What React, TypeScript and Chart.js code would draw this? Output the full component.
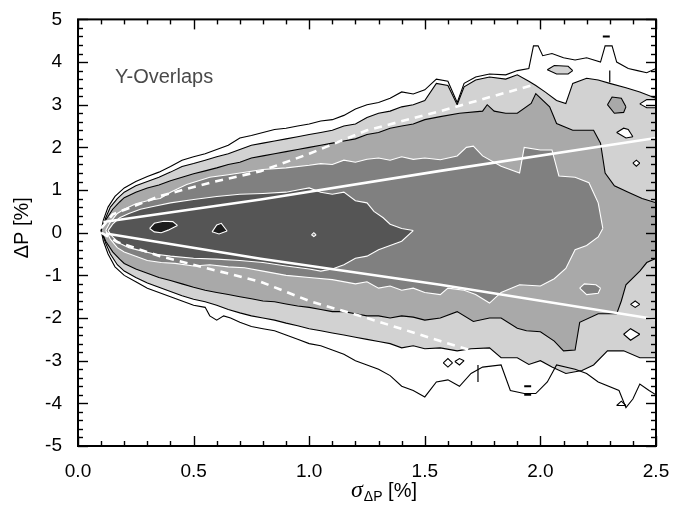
import React, { useEffect, useRef } from "react";
import { Chart, registerables } from "chart.js";

Chart.register(...registerables);

type P = [number, number];

// ---- axis ticks ----
const X_TICKS = [0, 0.5, 1.0, 1.5, 2.0, 2.5];
const X_TICK_LABELS = ["0.0", "0.5", "1.0", "1.5", "2.0", "2.5"];
const Y_TICKS = [-5, -4, -3, -2, -1, 0, 1, 2, 3, 4, 5];
const Y_TICK_LABELS = ["-5", "-4", "-3", "-2", "-1", "0", "1", "2", "3", "4", "5"];
const X_MINOR_STEP = 0.1;
const Y_MINOR_STEP = 0.2;

// ---- contour level 1 (outermost, black line, white fill) ----
const L1_UPPER: P[] = [[0.1,0.05],[0.11,0.3],[0.13,0.6],[0.16,0.85],[0.2,1.05],[0.25,1.2],[0.3,1.32],[0.35,1.42],[0.4,1.55],[0.45,1.7],[0.5,1.78],[0.55,1.85],[0.6,1.95],[0.65,2.05],[0.7,2.22],[0.75,2.28],[0.8,2.35],[0.85,2.42],[0.9,2.45],[0.95,2.5],[1.0,2.55],[1.05,2.62],[1.1,2.65],[1.15,2.75],[1.2,2.9],[1.25,3.0],[1.3,3.05],[1.35,3.15],[1.4,3.3],[1.45,3.25],[1.5,3.35],[1.55,3.6],[1.6,3.55],[1.64,3.05],[1.67,3.5],[1.72,3.65],[1.78,3.72],[1.85,3.7],[1.9,3.8],[1.95,3.85],[1.97,4.38],[1.99,4.38],[2.01,4.15],[2.05,4.2],[2.1,4.1],[2.15,4.05],[2.2,4.1],[2.26,4.0],[2.28,4.38],[2.31,4.38],[2.33,4.0],[2.38,3.85],[2.42,3.8],[2.46,3.75],[2.5,3.85]];
const L1_LOWER: P[] = [[0.1,0.05],[0.11,-0.2],[0.13,-0.5],[0.16,-0.8],[0.2,-1.0],[0.25,-1.15],[0.3,-1.3],[0.35,-1.4],[0.4,-1.5],[0.45,-1.6],[0.5,-1.7],[0.55,-1.75],[0.57,-1.95],[0.6,-2.05],[0.63,-1.95],[0.66,-2.0],[0.7,-2.1],[0.75,-2.2],[0.8,-2.25],[0.85,-2.3],[0.9,-2.4],[0.95,-2.5],[1.0,-2.6],[1.05,-2.65],[1.1,-2.75],[1.15,-2.85],[1.2,-3.0],[1.25,-3.1],[1.3,-3.2],[1.35,-3.35],[1.4,-3.6],[1.45,-3.7],[1.5,-3.85],[1.55,-3.5],[1.6,-3.45],[1.65,-3.6],[1.7,-3.3],[1.75,-3.15],[1.83,-3.1],[1.87,-3.7],[1.93,-3.77],[1.98,-3.77],[2.03,-3.5],[2.07,-3.1],[2.15,-3.2],[2.2,-3.3],[2.25,-3.5],[2.34,-3.7],[2.37,-4.1],[2.4,-3.9],[2.43,-3.55],[2.47,-3.7],[2.5,-3.8]];

// ---- level 2 (black line, light grey) ----
const L2_UPPER: P[] = [[0.1,0.05],[0.12,0.35],[0.14,0.6],[0.17,0.8],[0.2,0.95],[0.25,1.1],[0.3,1.2],[0.35,1.3],[0.4,1.42],[0.45,1.55],[0.5,1.62],[0.55,1.7],[0.6,1.78],[0.65,1.85],[0.7,1.95],[0.75,2.05],[0.8,2.1],[0.85,2.15],[0.9,2.2],[0.95,2.25],[1.0,2.3],[1.05,2.35],[1.1,2.4],[1.15,2.5],[1.2,2.55],[1.25,2.7],[1.3,2.8],[1.35,2.85],[1.4,2.95],[1.45,3.0],[1.5,3.1],[1.55,3.5],[1.6,3.45],[1.64,3.0],[1.67,3.42],[1.72,3.58],[1.78,3.65],[1.85,3.6],[1.9,3.7],[1.95,3.55],[1.98,3.45],[2.02,3.3],[2.07,3.1],[2.11,3.03],[2.14,3.5],[2.2,3.62],[2.25,3.58],[2.3,3.5],[2.37,3.4],[2.43,3.3],[2.5,3.15]];
const L2_LOWER: P[] = [[0.1,0.05],[0.12,-0.25],[0.14,-0.5],[0.17,-0.75],[0.2,-0.9],[0.25,-1.05],[0.3,-1.18],[0.35,-1.28],[0.4,-1.38],[0.45,-1.48],[0.5,-1.56],[0.55,-1.62],[0.6,-1.7],[0.65,-1.8],[0.7,-1.88],[0.75,-1.95],[0.8,-2.0],[0.85,-2.05],[0.9,-2.12],[0.95,-2.18],[1.0,-2.25],[1.05,-2.3],[1.1,-2.35],[1.15,-2.4],[1.2,-2.45],[1.25,-2.5],[1.3,-2.55],[1.35,-2.6],[1.4,-2.7],[1.45,-2.65],[1.5,-2.72],[1.567,-2.7],[1.64,-2.77],[1.7,-2.72],[1.78,-2.7],[1.83,-2.93],[1.9,-2.93],[1.95,-3.09],[2.0,-3.0],[2.05,-3.15],[2.11,-3.3],[2.18,-3.23],[2.23,-3.1],[2.29,-2.77],[2.36,-2.77],[2.43,-2.93],[2.5,-2.93]];

// ---- level 3 (black line, mid grey) ----
const L3_UPPER: P[] = [[0.1,0.05],[0.12,0.3],[0.15,0.55],[0.18,0.72],[0.2,0.82],[0.25,0.95],[0.3,1.05],[0.35,1.12],[0.4,1.22],[0.45,1.3],[0.5,1.38],[0.55,1.45],[0.6,1.52],[0.65,1.6],[0.7,1.65],[0.75,1.75],[0.8,1.8],[0.85,1.85],[0.9,1.9],[0.95,1.95],[1.0,2.0],[1.05,2.05],[1.1,2.1],[1.15,2.15],[1.2,2.2],[1.25,2.3],[1.3,2.35],[1.35,2.45],[1.4,2.5],[1.45,2.55],[1.5,2.65],[1.567,2.72],[1.65,2.8],[1.75,2.85],[1.77,3.0],[1.8,2.85],[1.85,2.8],[1.9,2.8],[1.96,3.03],[1.98,3.26],[2.04,2.95],[2.07,2.56],[2.14,2.4],[2.23,2.4],[2.26,2.1],[2.28,1.4],[2.32,1.1],[2.38,0.95],[2.44,0.8],[2.5,0.7]];
const L3_LOWER: P[] = [[0.1,0.05],[0.12,-0.2],[0.15,-0.45],[0.18,-0.62],[0.2,-0.72],[0.25,-0.85],[0.3,-0.95],[0.35,-1.05],[0.4,-1.12],[0.45,-1.2],[0.5,-1.28],[0.55,-1.35],[0.6,-1.4],[0.65,-1.45],[0.7,-1.5],[0.75,-1.55],[0.8,-1.6],[0.85,-1.62],[0.9,-1.67],[0.95,-1.72],[1.0,-1.75],[1.05,-1.8],[1.1,-1.85],[1.15,-1.85],[1.2,-1.9],[1.25,-1.95],[1.3,-1.95],[1.35,-2.0],[1.4,-1.95],[1.45,-1.98],[1.5,-2.05],[1.567,-2.0],[1.64,-1.85],[1.71,-2.08],[1.78,-2.0],[1.83,-2.0],[1.9,-2.24],[1.94,-2.3],[2.0,-2.32],[2.06,-2.54],[2.1,-2.77],[2.15,-2.75],[2.17,-2.1],[2.25,-1.9],[2.33,-1.9],[2.35,-1.6],[2.37,-1.22],[2.43,-0.9],[2.46,-0.7],[2.5,-0.6]];

// ---- level 4 (white line, darker grey) ----
const L4_UPPER: P[] = [[0.12,0.05],[0.14,0.25],[0.17,0.45],[0.2,0.55],[0.25,0.68],[0.3,0.75],[0.355,0.8],[0.4,0.95],[0.47,1.13],[0.57,1.3],[0.65,1.36],[0.7,1.4],[0.8,1.48],[0.9,1.52],[1.0,1.58],[1.05,1.62],[1.1,1.6],[1.15,1.7],[1.2,1.65],[1.25,1.72],[1.3,1.75],[1.35,1.7],[1.4,1.78],[1.45,1.72],[1.5,1.75],[1.567,1.71],[1.64,1.8],[1.68,2.0],[1.71,2.03],[1.75,1.8],[1.83,1.56],[1.91,1.4],[1.93,2.0],[2.0,1.94],[2.05,1.94],[2.08,1.33],[2.15,1.3],[2.21,1.17],[2.25,0.7],[2.27,0.1]];
const L4_LOWER: P[] = [[0.12,0.05],[0.14,-0.15],[0.17,-0.35],[0.2,-0.45],[0.25,-0.55],[0.3,-0.65],[0.36,-0.7],[0.42,-0.72],[0.5,-0.78],[0.57,-0.75],[0.65,-0.8],[0.72,-0.82],[0.8,-0.9],[0.9,-1.0],[1.0,-1.05],[1.1,-1.1],[1.2,-1.2],[1.25,-1.15],[1.3,-1.3],[1.35,-1.25],[1.4,-1.35],[1.45,-1.3],[1.5,-1.4],[1.567,-1.45],[1.6,-1.3],[1.67,-1.35],[1.72,-1.45],[1.78,-1.65],[1.83,-1.4],[1.91,-1.22],[2.0,-1.25],[2.06,-1.08],[2.11,-0.84],[2.15,-0.4],[2.2,-0.3],[2.25,-0.1],[2.27,0.1]];

// ---- level 5 (white line, dark grey) ----
const L5_UPPER: P[] = [[0.13,0.05],[0.15,0.2],[0.18,0.35],[0.22,0.45],[0.27,0.55],[0.33,0.62],[0.4,0.7],[0.5,0.78],[0.6,0.85],[0.7,0.9],[0.8,0.92],[0.9,0.95],[0.95,1.0],[1.0,1.05],[1.05,0.95],[1.1,0.9],[1.15,0.95],[1.2,0.75],[1.25,0.7],[1.28,0.5],[1.32,0.35],[1.35,0.2],[1.4,0.1],[1.45,0.05]];
const L5_LOWER: P[] = [[0.13,0.05],[0.15,-0.1],[0.18,-0.25],[0.22,-0.35],[0.27,-0.42],[0.33,-0.5],[0.4,-0.55],[0.5,-0.6],[0.6,-0.62],[0.7,-0.65],[0.8,-0.7],[0.9,-0.78],[1.0,-0.85],[1.05,-0.9],[1.1,-0.85],[1.15,-0.75],[1.2,-0.6],[1.25,-0.55],[1.3,-0.4],[1.35,-0.3],[1.4,-0.2],[1.45,0.05]];

// ---- level 6 islands (white line, near black) ----
const L6A_UPPER: P[] = [[0.31,0.1],[0.33,0.22],[0.37,0.27],[0.41,0.26],[0.43,0.17]];
const L6A_LOWER: P[] = [[0.31,0.1],[0.33,0.02],[0.36,0.0],[0.39,0.06],[0.43,0.17]];
const L6B_UPPER: P[] = [[0.58,0.02],[0.6,0.18],[0.62,0.22],[0.645,0.04]];
const L6B_LOWER: P[] = [[0.58,0.02],[0.61,-0.03],[0.645,0.04]];

// ---- small islands ----
const ISL_L2_UPPER: P[] = [[2.03,3.82],[2.06,3.92],[2.12,3.9],[2.14,3.8]];
const ISL_L2_LOWER: P[] = [[2.03,3.82],[2.07,3.72],[2.12,3.72],[2.14,3.8]];
const ISL_L3_UPPER: P[] = [[2.29,3.0],[2.31,3.18],[2.35,3.15],[2.37,2.95]];
const ISL_L3_LOWER: P[] = [[2.29,3.0],[2.32,2.8],[2.36,2.82],[2.37,2.95]];
const ISL_W1_UPPER: P[] = [[2.33,2.35],[2.36,2.45],[2.38,2.42],[2.4,2.25]];
const ISL_W1_LOWER: P[] = [[2.33,2.35],[2.37,2.22],[2.4,2.25]];
const ISL_W2_UPPER: P[] = [[2.36,-2.38],[2.39,-2.25],[2.43,-2.38]];
const ISL_W2_LOWER: P[] = [[2.36,-2.38],[2.39,-2.52],[2.43,-2.38]];
const ISL_W3_UPPER: P[] = [[2.43,3.02],[2.46,3.12],[2.5,3.12]];
const ISL_W3_LOWER: P[] = [[2.43,3.02],[2.46,2.93],[2.5,2.93]];
const ISL_W4_UPPER: P[] = [[2.4,1.63],[2.415,1.7],[2.43,1.63]];
const ISL_W4_LOWER: P[] = [[2.4,1.63],[2.415,1.56],[2.43,1.63]];
const ISL_W5_UPPER: P[] = [[2.39,-1.68],[2.41,-1.6],[2.43,-1.68]];
const ISL_W5_LOWER: P[] = [[2.39,-1.68],[2.41,-1.75],[2.43,-1.68]];
const ISL_D1_UPPER: P[] = [[1.58,-3.05],[1.6,-2.95],[1.62,-3.05]];
const ISL_D1_LOWER: P[] = [[1.58,-3.05],[1.6,-3.15],[1.62,-3.05]];
const ISL_D2_UPPER: P[] = [[1.63,-3.02],[1.65,-2.95],[1.67,-3.0]];
const ISL_D2_LOWER: P[] = [[1.63,-3.02],[1.65,-3.1],[1.67,-3.0]];
const ISL_D3_UPPER: P[] = [[2.33,-4.05],[2.35,-3.95],[2.37,-4.05]];
const ISL_D3_LOWER: P[] = [[2.33,-4.05],[2.37,-4.05]];
const ISL_L4_UPPER: P[] = [[2.17,-1.3],[2.19,-1.2],[2.24,-1.22],[2.26,-1.3]];
const ISL_L4_LOWER: P[] = [[2.17,-1.3],[2.2,-1.45],[2.25,-1.42],[2.26,-1.3]];
const ISL_SPECK_UPPER: P[] = [[1.01,-0.05],[1.02,0.0],[1.03,-0.05]];
const ISL_SPECK_LOWER: P[] = [[1.01,-0.05],[1.02,-0.09],[1.03,-0.05]];

// ---- tiny stray contour strokes ----
const MARK_A: P[] = [[2.27,4.6],[2.3,4.6]];
const MARK_B: P[] = [[2.3,3.8],[2.3,3.52]];
const MARK_C: P[] = [[1.73,-3.1],[1.73,-3.5]];
const MARK_D: P[] = [[1.93,-3.6],[1.96,-3.6]];
const MARK_E: P[] = [[1.93,-3.8],[1.96,-3.8]];

// ---- reference curves (white) ----
const SOLID_UPPER: P[] = [[0.11,0.25],[0.79,0.78],[1.567,1.45],[2.5,2.22]];
const SOLID_LOWER: P[] = [[0.12,-0.02],[0.79,-0.61],[1.567,-1.22],[2.5,-2.03]];
const DASHED_UPPER: P[] = [[0.1,0.1],[0.15,0.43],[0.355,0.86],[0.57,1.17],[0.79,1.44],[1.0,1.85],[1.25,2.4],[1.567,2.85],[1.96,3.45]];
const DASHED_LOWER: P[] = [[0.1,0.0],[0.17,-0.22],[0.355,-0.55],[0.57,-0.85],[0.79,-1.15],[1.0,-1.6],[1.25,-2.0],[1.567,-2.54],[1.75,-2.84]];

const C_WHITE = "#ffffff";
const C_L2 = "#d2d2d2";
const C_L3 = "#a9a9a9";
const C_L4 = "#808080";
const C_L5 = "#555555";
const C_L6 = "#1c1c1c";

const FONT = "'Liberation Sans', Arial, Helvetica, sans-serif";

function toXY(p: P[]) {
  return p.map(([x, y]) => ({ x, y }));
}

function band(upper: P[], lower: P[], fillColor: string, lineColor: string, lw = 1.1) {
  return [
    {
      data: toXY(upper),
      borderColor: lineColor,
      borderWidth: lw,
      backgroundColor: fillColor,
      fill: "+1",
      pointRadius: 0,
      tension: 0,
    },
    {
      data: toXY(lower),
      borderColor: lineColor,
      borderWidth: lw,
      backgroundColor: fillColor,
      fill: false,
      pointRadius: 0,
      tension: 0,
    },
  ];
}

function stroke(p: P[], color: string, lw: number) {
  return {
    data: toXY(p),
    borderColor: color,
    borderWidth: lw,
    fill: false,
    pointRadius: 0,
    tension: 0,
  };
}

function refLine(p: P[], dashed: boolean) {
  return {
    data: toXY(p),
    borderColor: "#ffffff",
    borderWidth: 2.6,
    borderDash: dashed ? [8, 6] : [],
    fill: false,
    pointRadius: 0,
    tension: 0,
  };
}

const overlay = {
  id: "overlay",
  afterDraw(chart: any) {
    const { ctx, chartArea: a, scales } = chart;
    const xs = scales.x;
    const ys = scales.y;
    ctx.save();
    ctx.strokeStyle = "#000";
    ctx.lineWidth = 1.4;
    const seg = (x1: number, y1: number, x2: number, y2: number) => {
      ctx.beginPath();
      ctx.moveTo(x1, y1);
      ctx.lineTo(x2, y2);
      ctx.stroke();
    };
    const xMin = X_TICKS[0];
    const xMax = X_TICKS[X_TICKS.length - 1];
    const nx = Math.round((xMax - xMin) / X_MINOR_STEP);
    for (let i = 0; i <= nx; i++) {
      const v = xMin + i * X_MINOR_STEP;
      const major = X_TICKS.some((t) => Math.abs(t - v) < 1e-6);
      const len = major ? 10 : 5;
      const px = Math.round(xs.getPixelForValue(v)) + 0.5;
      seg(px, a.bottom, px, a.bottom - len);
      seg(px, a.top, px, a.top + len);
    }
    const yMin = Y_TICKS[0];
    const yMax = Y_TICKS[Y_TICKS.length - 1];
    const ny = Math.round((yMax - yMin) / Y_MINOR_STEP);
    for (let i = 0; i <= ny; i++) {
      const v = yMin + i * Y_MINOR_STEP;
      const major = Y_TICKS.some((t) => Math.abs(t - v) < 1e-6);
      const len = major ? 10 : 5;
      const py = Math.round(ys.getPixelForValue(v)) + 0.5;
      seg(a.left, py, a.left + len, py);
      seg(a.right, py, a.right - len, py);
    }
    ctx.lineWidth = 2;
    ctx.strokeRect(a.left, a.top, a.right - a.left, a.bottom - a.top);

    // annotation
    ctx.fillStyle = "#4a4a4a";
    ctx.font = `20px ${FONT}`;
    ctx.textAlign = "left";
    ctx.textBaseline = "alphabetic";
    ctx.fillText("Y-Overlaps", xs.getPixelForValue(0.16), ys.getPixelForValue(3.52));

    // x title: sigma_{ΔP} [%]
    ctx.fillStyle = "#000";
    const fSig = `italic 24px 'Liberation Serif', 'DejaVu Serif', serif`;
    const fSub = `14px ${FONT}`;
    const fMain = `20px ${FONT}`;
    ctx.font = fSig;
    const wSig = ctx.measureText("σ").width;
    ctx.font = fSub;
    const wSub = ctx.measureText("ΔP").width;
    ctx.font = fMain;
    const wMain = ctx.measureText(" [%]").width;
    const total = wSig + 1 + wSub + wMain;
    const cx = (a.left + a.right) / 2 + 17;
    let x0 = cx - total / 2;
    const base = a.bottom + 51;
    ctx.font = fSig;
    ctx.fillText("σ", x0, base);
    x0 += wSig + 1;
    ctx.font = fSub;
    ctx.fillText("ΔP", x0, base + 4);
    x0 += wSub;
    ctx.font = fMain;
    ctx.fillText(" [%]", x0, base);

    // y title
    ctx.save();
    ctx.translate(a.left - 56, (a.top + a.bottom) / 2 - 5);
    ctx.rotate(-Math.PI / 2);
    ctx.textAlign = "center";
    ctx.textBaseline = "middle";
    ctx.font = fMain;
    ctx.fillText("ΔP [%]", 0, 0);
    ctx.restore();
    ctx.restore();
  },
};

export default function App() {
  const ref = useRef<HTMLCanvasElement | null>(null);
  useEffect(() => {
    if (!ref.current) return;
    const datasets: any[] = [
      refLine(SOLID_UPPER, false),
      refLine(SOLID_LOWER, false),
      refLine(DASHED_UPPER, true),
      refLine(DASHED_LOWER, true),
      stroke(MARK_A, "#000", 2),
      stroke(MARK_B, "#000", 1.2),
      stroke(MARK_C, "#000", 1.2),
      stroke(MARK_D, "#000", 2),
      stroke(MARK_E, "#000", 2),
      ...band(L6A_UPPER, L6A_LOWER, C_L6, C_WHITE),
      ...band(L6B_UPPER, L6B_LOWER, C_L6, C_WHITE),
      ...band(ISL_SPECK_UPPER, ISL_SPECK_LOWER, C_L4, C_WHITE),
      ...band(L5_UPPER, L5_LOWER, C_L5, C_WHITE),
      ...band(ISL_L4_UPPER, ISL_L4_LOWER, C_L4, C_WHITE),
      ...band(L4_UPPER, L4_LOWER, C_L4, C_WHITE),
      ...band(ISL_L3_UPPER, ISL_L3_LOWER, C_L3, "#000"),
      ...band(ISL_W1_UPPER, ISL_W1_LOWER, C_WHITE, "#000"),
      ...band(ISL_W2_UPPER, ISL_W2_LOWER, C_WHITE, "#000"),
      ...band(ISL_W3_UPPER, ISL_W3_LOWER, C_WHITE, "#000"),
      ...band(ISL_W4_UPPER, ISL_W4_LOWER, C_WHITE, "#000"),
      ...band(ISL_W5_UPPER, ISL_W5_LOWER, C_WHITE, "#000"),
      ...band(L3_UPPER, L3_LOWER, C_L3, "#000"),
      ...band(ISL_L2_UPPER, ISL_L2_LOWER, C_L2, "#000"),
      ...band(L2_UPPER, L2_LOWER, C_L2, "#000"),
      ...band(ISL_D1_UPPER, ISL_D1_LOWER, C_WHITE, "#000"),
      ...band(ISL_D2_UPPER, ISL_D2_LOWER, C_WHITE, "#000"),
      ...band(ISL_D3_UPPER, ISL_D3_LOWER, C_WHITE, "#000"),
      ...band(L1_UPPER, L1_LOWER, C_WHITE, "#000"),
    ];
    const tickFont = { family: FONT, size: 19 };
    const chart = new Chart(ref.current, {
      type: "line",
      data: { datasets },
      options: {
        animation: false,
        responsive: false,
        devicePixelRatio: 1,
        layout: { padding: { top: 15, right: 40, left: 0, bottom: 0 } },
        plugins: {
          legend: { display: false },
          tooltip: { enabled: false },
          filler: { propagate: false, drawTime: "beforeDatasetsDraw" } as any,
        },
        scales: {
          x: {
            type: "linear",
            min: X_TICKS[0],
            max: X_TICKS[X_TICKS.length - 1],
            grid: { display: false },
            border: { display: false },
            afterBuildTicks: (s: any) => {
              s.ticks = X_TICKS.map((v) => ({ value: v }));
            },
            ticks: {
              autoSkip: false,
              maxRotation: 0,
              color: "#000",
              font: tickFont,
              padding: 6,
              callback: (v: any) => X_TICK_LABELS[X_TICKS.findIndex((t) => Math.abs(t - Number(v)) < 1e-6)] ?? "",
            },
            afterFit: (s: any) => {
              s.height = 62;
            },
          },
          y: {
            type: "linear",
            min: Y_TICKS[0],
            max: Y_TICKS[Y_TICKS.length - 1],
            grid: { display: false },
            border: { display: false },
            afterBuildTicks: (s: any) => {
              s.ticks = Y_TICKS.map((v) => ({ value: v }));
            },
            ticks: {
              autoSkip: false,
              color: "#000",
              font: tickFont,
              padding: 8,
              callback: (v: any) => Y_TICK_LABELS[Y_TICKS.findIndex((t) => Math.abs(t - Number(v)) < 1e-6)] ?? "",
            },
            afterFit: (s: any) => {
              s.width = 78;
            },
          },
        },
      },
      plugins: [overlay],
    });
    return () => chart.destroy();
  }, []);
  return (
    <div style={{ position: "fixed", left: 0, top: 0, width: 696, height: 508, background: "#fff" }}>
      <canvas ref={ref} width={696} height={508} style={{ display: "block", width: 696, height: 508 }} />
    </div>
  );
}
